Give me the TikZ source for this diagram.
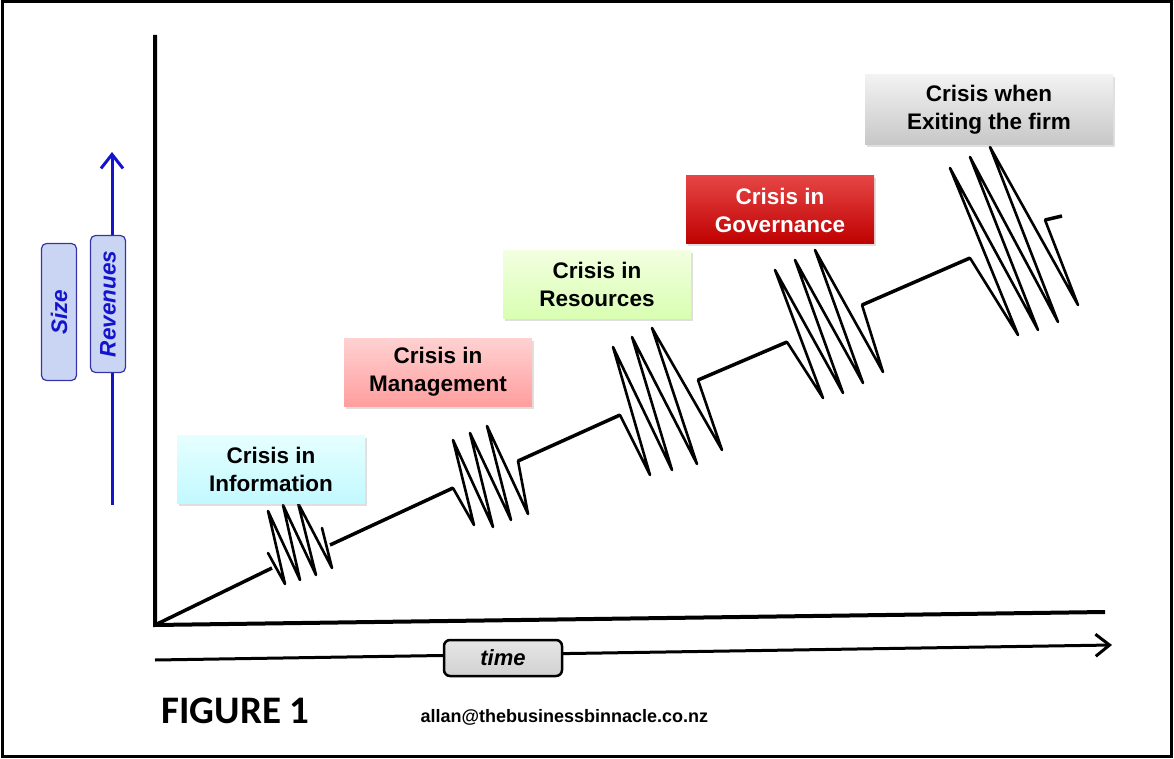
\documentclass[tikz,border=0pt]{standalone}
\usepackage{fontspec}
\setmainfont{Liberation Sans}
\newfontfamily\calibrifont{Carlito}
\usepackage{xcolor}
\usetikzlibrary{arrows.meta,positioning,shadows}

\definecolor{revblue}{HTML}{1414CC}
\definecolor{labelblue}{HTML}{C9D5F2}
\definecolor{labeledge}{HTML}{3535A8}

\begin{document}
\begin{tikzpicture}[x=1pt, y=-1pt,
  crisis/.style={minimum width=188pt, minimum height=68pt, align=center,
    font=\fontsize{22.5}{28}\selectfont\bfseries, inner sep=2pt,
    drop shadow={opacity=0.25, shadow xshift=1.5pt, shadow yshift=-2.5pt}},
  info/.style={crisis, top color=cyan!10, bottom color=cyan!40!blue!5!white!80!cyan},
  mgmt/.style={crisis, top color=red!18, bottom color=red!38},
  res/.style={crisis, top color=green!40!yellow!12, bottom color=green!50!yellow!30},
  gov/.style={crisis, top color=red!70!white!90!black, bottom color=red!75!black, text=white},
  exit/.style={crisis, minimum width=248pt, minimum height=70pt, top color=black!5, bottom color=black!22},
  axislabel/.style={draw=labeledge, fill=labelblue, rounded corners=5pt, line width=1.2pt,
    minimum width=137pt, minimum height=35pt, rotate=90, text=revblue,
    font=\fontsize{22.5}{26}\selectfont\bfseries\itshape},
  axis/.style={line width=4pt},
  trend/.style={line width=3.5pt},
  spring/.style={line width=2.6pt, line join=round, line cap=round},
  arr/.style={-{Straight Barb[length=14pt, width=22pt, line width=3pt]}, line width=3pt}
]
\useasboundingbox (0,0) rectangle (1174,759);
\draw[line width=3pt] (2,2) rectangle (1171,756);

% Axes
\coordinate (origin) at (155,625);
\draw[axis] (155,35) -- (origin) -- (1105,612);

% Size / revenues arrow
\coordinate (revbot) at (112,505);
\coordinate (revtop) at (112,152);
\draw[arr, color=revblue] (revbot) -- (revtop);
\node[axislabel] (revenues) at (108,304) {Revenues};
\node[axislabel] (size) at (59,312) {Size};

% Time arrow
\coordinate (timel) at (155,660);
\coordinate (timer) at (1112,645);
\draw[arr] (timel) -- (timer);
\node[draw, line width=2.5pt, rounded corners=6pt, top color=black!10, bottom color=black!18,
  minimum width=118pt, minimum height=36pt, font=\fontsize{22}{26}\selectfont\bfseries\itshape]
  (time) at (503,658) {time};

% Growth line with crisis springs
\coordinate (infoin) at (272,568);   \coordinate (infoout) at (330,545);
\coordinate (mgmtin) at (453,488);   \coordinate (mgmtout) at (518,461);
\coordinate (resin) at (620,415);    \coordinate (resout) at (698,380);
\coordinate (govin) at (787,342);    \coordinate (govout) at (862,305);
\coordinate (exitin) at (970,258);   \coordinate (exitout) at (1045,220);
\coordinate (lineend) at (1062,216);

\draw[trend] (origin) -- (infoin);
\draw[trend] (infoout) -- (mgmtin);
\draw[trend] (mgmtout) -- (resin);
\draw[trend] (resout) -- (govin);
\draw[trend] (govout) -- (exitin);
\draw[trend] (exitout) -- (lineend);

\draw[spring] (268,553) -- (285,584) -- (268,511) -- (300,580) -- (283,505)
  -- (316,575) -- (298,503) -- (332,568) -- (322,528);
\draw[spring] (mgmtin) -- (474,525) -- (453,440) -- (493,527) -- (470,433)
  -- (511,520) -- (487,426) -- (528,514) -- (mgmtout);
\draw[spring] (resin) -- (650,475) -- (613,347) -- (672,470) -- (632,337)
  -- (697,464) -- (652,328) -- (722,450) -- (resout);
\draw[spring] (govin) -- (823,398) -- (775,270) -- (843,393) -- (795,260)
  -- (863,383) -- (815,250) -- (883,372) -- (govout);
\draw[spring] (exitin) -- (1018,335) -- (950,168) -- (1038,330) -- (970,157)
  -- (1058,322) -- (990,147) -- (1078,305) -- (exitout);

% Crisis labels
\node[info] (information) at (271,469) {Crisis in\\Information};
\node[mgmt] (management) at (438,372) {Crisis in\\Management};
\node[res] (resources) at (597,284) {Crisis in\\Resources};
\node[gov] (governance) at (780,210) {Crisis in\\Governance};
\node[exit] (exiting) at (989,110) {Crisis when\\Exiting the firm};

% Footer
\node[font=\calibrifont\fontsize{39}{44}\selectfont\bfseries, anchor=west] (figure) at (158,711) {FIGURE 1};
\node[font=\fontsize{18}{20}\selectfont\bfseries, anchor=west] (email) at (417,717) {allan@thebusinessbinnacle.co.nz};
\end{tikzpicture}
\end{document}
